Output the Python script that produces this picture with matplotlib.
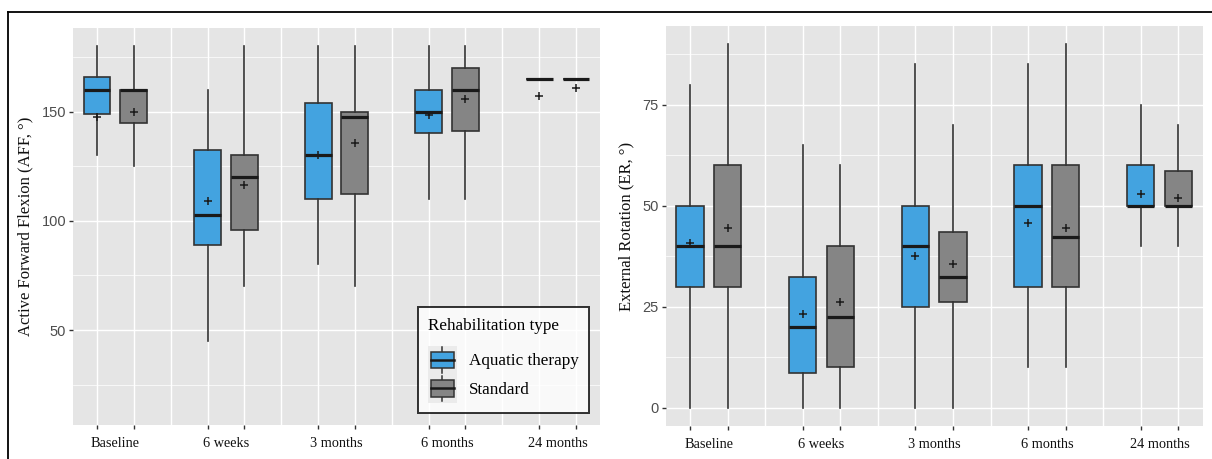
import matplotlib
matplotlib.use("Agg")
import matplotlib.pyplot as plt
from matplotlib.lines import Line2D
from matplotlib.patches import Rectangle
from matplotlib.legend_handler import HandlerBase

# ---------------- data ----------------
timepoints = ["Baseline", "6 weeks", "3 months", "6 months", "24 months"]
groups = ["Aquatic therapy", "Standard"]

# Active forward flexion (AFF)
aff_aquatic_lo   = [130, 45, 80, 110, 165]
aff_aquatic_q1   = [149, 89, 110, 140, 165]
aff_aquatic_med  = [160, 102.5, 130, 150, 165]
aff_aquatic_q3   = [166, 132.5, 154, 160, 165]
aff_aquatic_hi   = [180, 160, 180, 180, 165]
aff_aquatic_mean = [147.5, 109, 130, 148.3, 157.3]

aff_standard_lo   = [125, 70, 70, 110, 165]
aff_standard_q1   = [145, 96, 112.5, 141, 165]
aff_standard_med  = [160, 120, 147.5, 160, 165]
aff_standard_q3   = [160, 130, 150, 170, 165]
aff_standard_hi   = [180, 180, 180, 180, 165]
aff_standard_mean = [150, 116.5, 135.7, 156, 160.8]

# External rotation (ER)
er_aquatic_lo   = [0, 0, 0, 10, 40]
er_aquatic_q1   = [30, 8.7, 25, 30, 50]
er_aquatic_med  = [40, 20, 40, 50, 50]
er_aquatic_q3   = [50, 32.5, 50, 60, 60]
er_aquatic_hi   = [80, 65, 85, 85, 75]
er_aquatic_mean = [40.8, 23.3, 37.5, 45.7, 53]

er_standard_lo   = [0, 0, 0, 10, 40]
er_standard_q1   = [30, 10, 26.2, 30, 50]
er_standard_med  = [40, 22.5, 32.5, 42.3, 50]
er_standard_q3   = [60, 40, 43.6, 60, 58.7]
er_standard_hi   = [90, 60, 70, 90, 70]
er_standard_mean = [44.6, 26.1, 35.6, 44.6, 51.9]

aff_yticks = [50, 100, 150]
er_yticks = [0, 25, 50, 75]

# ---------------- style ----------------
W, H = 1212, 459
DPI = 100
blue = "#43A3E0"
grey = "#858585"
edge = "#333333"
panel_bg = "#E5E5E5"
serif = ["Liberation Serif", "DejaVu Serif"]
sans = ["Liberation Sans", "DejaVu Sans"]

fig = plt.figure(figsize=(W / DPI, H / DPI), dpi=DPI)
fig.patch.set_facecolor("white")


def stats_list(lo, q1, med, q3, hi, mean):
    return [dict(whislo=a, q1=b, med=c, q3=d, whishi=e, mean=f, fliers=[])
            for a, b, c, d, e, f in zip(lo, q1, med, q3, hi, mean)]


def draw_panel(ax, series, ylim, yticks, ylabel):
    ax.set_facecolor(panel_bg)
    n = len(timepoints)
    pos_a = [3 * i for i in range(n)]
    pos_s = [3 * i + 1 for i in range(n)]
    allpos = sorted(pos_a + pos_s)
    xmin, xmax = min(allpos), max(allpos)
    pad = 0.05 * (xmax - xmin)
    ax.set_xlim(xmin - pad, xmax + pad)
    ax.set_ylim(*ylim)

    # grid
    for y in yticks:
        ax.axhline(y, color="white", lw=1.0, zorder=0.5)
    step = yticks[1] - yticks[0]
    minor_y = [yticks[0] - step / 2] + \
              [(a + b) / 2 for a, b in zip(yticks[:-1], yticks[1:])] + \
              [yticks[-1] + step / 2]
    for y in minor_y:
        if ylim[0] < y < ylim[1]:
            ax.axhline(y, color="white", lw=0.5, zorder=0.4)
    for x in allpos:
        ax.axvline(x, color="white", lw=1.0, zorder=0.5)
    for i in range(n - 1):
        ax.axvline(3 * i + 2, color="white", lw=1.0, zorder=0.5)

    for pos, color, st in [(pos_a, blue, series[0]), (pos_s, grey, series[1])]:
        ax.bxp(st, positions=pos, widths=0.73, patch_artist=True,
               showcaps=False, showmeans=True, showfliers=False,
               boxprops=dict(facecolor=color, edgecolor=edge, linewidth=1.2),
               whiskerprops=dict(color=edge, linewidth=1.2),
               medianprops=dict(color="#1A1A1A", linewidth=2.3, solid_capstyle="butt"),
               meanprops=dict(marker="+", markeredgecolor="#1A1A1A",
                              markersize=6, markeredgewidth=1.1),
               manage_ticks=False, zorder=2)

    ax.set_xticks(allpos)
    ax.set_xticklabels([""] * len(allpos))
    ax.set_xticks([3 * i + 0.5 for i in range(n)], timepoints, minor=True)
    ax.tick_params(axis="x", which="major", length=3, width=1.0, color=edge)
    ax.tick_params(axis="x", which="minor", length=0, pad=8.5, labelsize=10.3,
                   labelcolor="#111111")
    for t in ax.get_xticklabels(minor=True):
        t.set_fontfamily(serif)
    ax.set_yticks(yticks)
    ax.set_yticklabels([str(v) for v in yticks], fontfamily=sans)
    ax.tick_params(axis="y", length=3, width=1.0, color=edge, labelsize=10.5,
                   labelcolor="#4D4D4D", pad=2)
    for s in ax.spines.values():
        s.set_visible(False)
    ax.set_ylabel(ylabel, fontfamily=serif, fontsize=12, color="#111111",
                  labelpad=6)


# left panel
ax1 = fig.add_axes([73 / W, 1 - 425 / H, 527 / W, 397 / H])
aff_series = [stats_list(aff_aquatic_lo, aff_aquatic_q1, aff_aquatic_med,
                         aff_aquatic_q3, aff_aquatic_hi, aff_aquatic_mean),
              stats_list(aff_standard_lo, aff_standard_q1, aff_standard_med,
                         aff_standard_q3, aff_standard_hi, aff_standard_mean)]
draw_panel(ax1, aff_series, (6.5, 188.3), aff_yticks,
           "Active Forward Flexion (AFF, °)")

# right panel
ax2 = fig.add_axes([665.7 / W, 1 - 426 / H, 537 / W, 400 / H])
er_series = [stats_list(er_aquatic_lo, er_aquatic_q1, er_aquatic_med,
                        er_aquatic_q3, er_aquatic_hi, er_aquatic_mean),
             stats_list(er_standard_lo, er_standard_q1, er_standard_med,
                        er_standard_q3, er_standard_hi, er_standard_mean)]
draw_panel(ax2, er_series, (-4.5, 94.5), er_yticks, "External Rotation (ER, °)")


# legend with boxplot keys
class BoxHandler(HandlerBase):
    def __init__(self, color):
        super().__init__()
        self.color = color

    def create_artists(self, legend, orig_handle, xdescent, ydescent, width,
                       height, fontsize, trans):
        x0, y0 = -xdescent, -ydescent
        bg = Rectangle((x0, y0), width, height,
                       facecolor="#EBEBEB", edgecolor="none", transform=trans)
        cx = x0 + width / 2
        bw = width * 0.8
        bh = height * 0.58
        by = y0 + (height - bh) / 2
        wl1 = Line2D([cx, cx], [y0 + height * 0.05, by], color=edge, lw=1.1,
                     transform=trans)
        wl2 = Line2D([cx, cx], [by + bh, y0 + height * 0.95], color=edge,
                     lw=1.1, transform=trans)
        box = Rectangle((cx - bw / 2, by), bw, bh, facecolor=self.color,
                        edgecolor=edge, lw=1.1, transform=trans)
        med = Line2D([cx - bw / 2, cx + bw / 2], [by + bh / 2, by + bh / 2],
                     color="#1A1A1A", lw=1.8, transform=trans)
        return [bg, wl1, wl2, box, med]


h_a = Rectangle((0, 0), 1, 1)
h_s = Rectangle((0, 0), 1, 1)
leg = ax1.legend([h_a, h_s], groups, title="Rehabilitation type",
                 loc="lower right", bbox_to_anchor=(589 / W, 1 - 413 / H),
                 bbox_transform=fig.transFigure, borderaxespad=0,
                 handler_map={h_a: BoxHandler(blue), h_s: BoxHandler(grey)},
                 prop=dict(family=serif, size=12.3),
                 title_fontproperties=dict(family=serif, size=12.3),
                 frameon=True, fancybox=False, edgecolor="black",
                 borderpad=0.6, handlelength=1.7, handleheight=2.2,
                 handletextpad=0.7, labelspacing=0.0)
leg.get_frame().set_linewidth(1.4)
leg._legend_box.align = "left"
leg._legend_box.sep = 8.5

# outer frame (top and left border lines)
fig.add_artist(Line2D([8 / W, 1], [1 - 12 / H, 1 - 12 / H], color="black",
                      lw=1.3, transform=fig.transFigure))
fig.add_artist(Line2D([8 / W, 8 / W], [0, 1 - 12 / H], color="black",
                      lw=1.3, transform=fig.transFigure))

fig.savefig("out.png", dpi=DPI, facecolor="white")
